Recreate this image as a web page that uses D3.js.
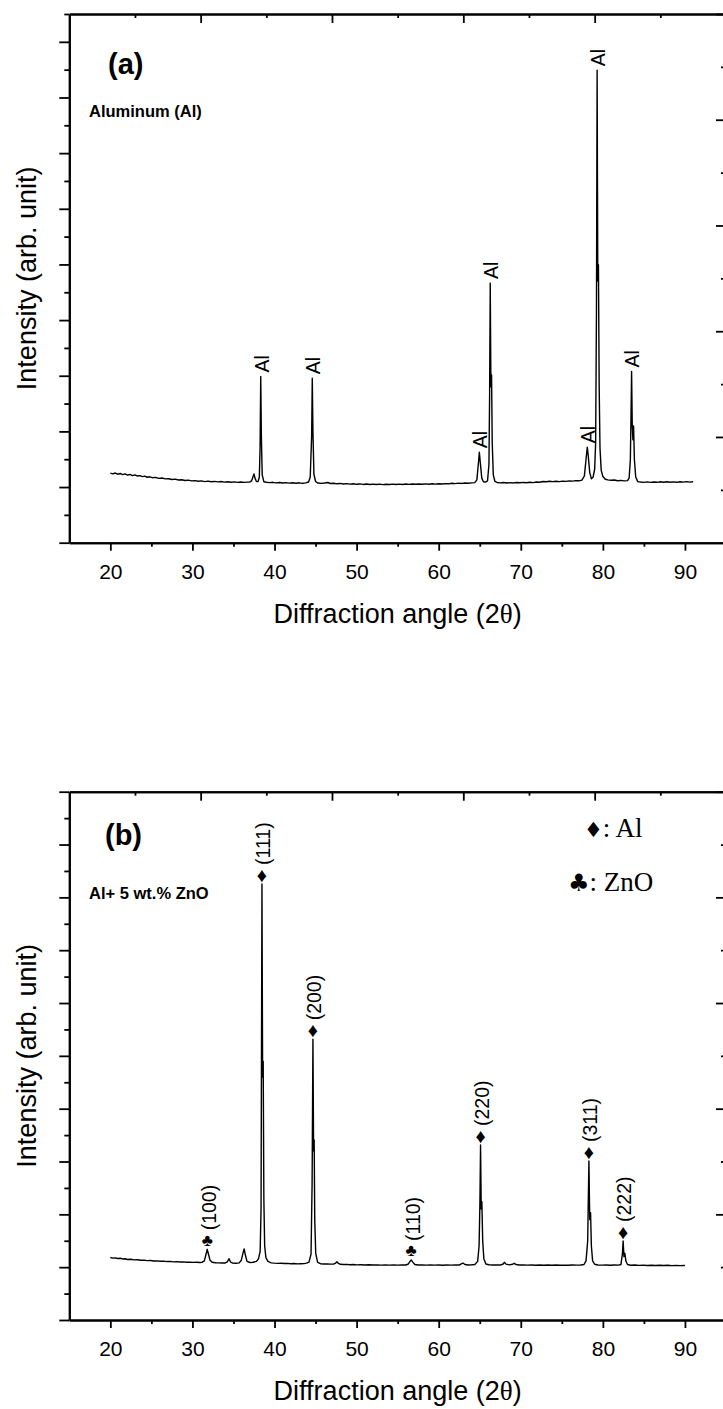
<!DOCTYPE html>
<html>
<head>
<meta charset="utf-8">
<script src="https://cdn.jsdelivr.net/npm/d3@7"></script>
<style>
  body { margin: 0; background: #fff; }
  svg text { font-family: Arial, "Liberation Sans", Helvetica, sans-serif; fill: #000; }
</style>
</head>
<body>
<svg id="chart" width="723" height="1409"></svg>
<script>
// ---------------- data ----------------
// bottom axis (2θ, degrees)
const angleTicks = [20, 30, 40, 50, 60, 70, 80, 90];
const angleMinorTicks = [25, 35, 45, 55, 65, 75, 85];

// Pattern (a): pure aluminium, [2θ, counts]
const scanAl = [
  [20.0,1250],[20.3,1238],[20.6,1252],[20.9,1230],[21.2,1244],[21.5,1224],[21.8,1236],[22.1,1214],
  [22.4,1226],[22.7,1205],[23.0,1218],[23.3,1198],[23.6,1206],[23.9,1188],[24.2,1196],[24.5,1176],
  [24.8,1184],[25.1,1168],[25.5,1174],[25.9,1156],[26.3,1162],[26.7,1146],[27.1,1150],[27.5,1136],
  [27.9,1142],[28.3,1126],[28.7,1132],[29.1,1118],[29.5,1124],[29.9,1110],[30.3,1116],[30.7,1104],
  [31.1,1110],[31.5,1098],[31.9,1106],[32.3,1095],[32.7,1102],[33.1,1092],[33.5,1099],[33.9,1088],
  [34.3,1096],[34.7,1086],[35.1,1093],[35.5,1084],[35.9,1091],[36.3,1083],[36.7,1089],[37.0,1092],
  [37.2,1110],[37.35,1170],[37.5,1236],[37.62,1160],[37.8,1098],[38.0,1100],[38.15,1180],[38.24,1700],
  [38.32,2986],[38.4,1900],[38.5,1220],[38.7,1096],[39.0,1086],[39.4,1079],[39.8,1085],[40.2,1074],
  [40.6,1081],[41.0,1072],[41.4,1079],[41.8,1070],[42.2,1077],[42.6,1069],[43.0,1076],[43.4,1067],
  [43.8,1074],[44.15,1090],[44.35,1180],[44.52,1900],[44.6,2957],[44.68,2000],[44.8,1230],[45.0,1100],
  [45.3,1072],[45.7,1066],[46.1,1072],[46.5,1082],[46.8,1064],[47.2,1069],[47.6,1058],[48.0,1065],
  [48.4,1055],[48.8,1062],[49.2,1052],[49.6,1059],[50.0,1049],[50.4,1056],[50.8,1047],[51.2,1054],
  [51.6,1046],[52.0,1053],[52.4,1045],[52.8,1052],[53.2,1044],[53.6,1051],[54.0,1046],[54.4,1053],
  [54.8,1045],[55.2,1052],[55.6,1047],[56.0,1054],[56.4,1048],[56.8,1055],[57.2,1049],[57.6,1056],
  [58.0,1050],[58.4,1057],[58.8,1051],[59.2,1058],[59.6,1053],[60.0,1059],[60.4,1055],[60.8,1062],
  [61.2,1058],[61.6,1068],[62.0,1062],[62.4,1070],[62.8,1065],[63.2,1073],[63.6,1068],[64.0,1075],
  [64.4,1080],[64.65,1130],[64.85,1450],[64.95,1626],[65.08,1420],[65.25,1160],[65.45,1095],[65.7,1090],
  [65.95,1110],[66.12,1400],[66.2,2600],[66.28,4665],[66.36,2800],[66.44,3016],[66.52,1800],[66.65,1220],
  [66.85,1100],[67.1,1082],[67.5,1075],[67.9,1081],[68.3,1073],[68.7,1080],[69.1,1074],[69.5,1081],
  [69.9,1076],[70.3,1083],[70.7,1078],[71.1,1086],[71.5,1080],[71.9,1090],[72.3,1086],[72.7,1100],
  [73.1,1096],[73.5,1104],[73.9,1098],[74.3,1103],[74.7,1097],[75.1,1106],[75.5,1101],[75.9,1110],
  [76.3,1106],[76.7,1115],[77.1,1112],[77.45,1125],[77.75,1200],[77.95,1500],[78.1,1716],[78.22,1560],
  [78.4,1260],[78.6,1150],[78.8,1175],[79.0,1320],[79.12,1800],[79.22,4200],[79.3,8489],[79.38,4700],
  [79.46,4995],[79.55,2800],[79.65,1700],[79.8,1300],[80.0,1190],[80.3,1140],[80.6,1128],[81.0,1121],
  [81.4,1127],[81.8,1114],[82.2,1120],[82.6,1110],[83.0,1116],[83.2,1160],[83.35,1500],[83.44,2400],
  [83.5,3076],[83.58,2100],[83.66,1850],[83.74,2099],[83.84,1500],[84.0,1180],[84.25,1098],[84.6,1090],
  [85.0,1084],[85.4,1092],[85.8,1083],[86.2,1091],[86.6,1085],[87.0,1094],[87.4,1086],[87.8,1095],
  [88.2,1087],[88.6,1093],[89.0,1085],[89.4,1096],[89.8,1088],[90.2,1097],[90.6,1089],[91.0,1094]
];
// reflections marked on pattern (a)
const peaksAl = [38.32, 44.6, 64.95, 66.28, 78.1, 79.3, 83.5];

// Pattern (b): Al + 5 wt.% ZnO, [2θ, counts]
const scanAlZnO = [
  [20.0,1182],[20.3,1172],[20.6,1176],[20.9,1164],[21.2,1168],[21.5,1156],[21.8,1160],[22.1,1146],
  [22.5,1150],[22.9,1138],[23.3,1141],[23.7,1131],[24.1,1134],[24.5,1124],[24.9,1127],[25.3,1117],
  [25.7,1120],[26.1,1111],[26.5,1114],[26.9,1106],[27.3,1109],[27.7,1101],[28.1,1104],[28.5,1097],
  [28.9,1100],[29.3,1093],[29.7,1096],[30.1,1090],[30.5,1094],[30.9,1089],[31.2,1094],[31.45,1120],
  [31.65,1240],[31.8,1338],[31.95,1250],[32.15,1130],[32.4,1092],[32.8,1084],[33.2,1081],[33.6,1078],
  [34.0,1080],[34.25,1100],[34.45,1160],[34.65,1098],[34.9,1076],[35.3,1073],[35.7,1082],[35.95,1130],
  [36.15,1260],[36.3,1344],[36.45,1230],[36.65,1110],[37.0,1088],[37.4,1094],[37.8,1110],[38.05,1160],
  [38.25,1300],[38.36,2100],[38.47,8253],[38.55,4600],[38.62,4900],[38.7,2300],[38.8,1400],[38.95,1180],
  [39.2,1110],[39.6,1082],[40.0,1076],[40.4,1072],[40.8,1075],[41.2,1069],[41.6,1072],[42.0,1066],
  [42.4,1069],[42.8,1063],[43.2,1066],[43.6,1068],[43.9,1076],[44.2,1095],[44.45,1250],[44.58,2600],
  [44.68,5313],[44.76,3200],[44.83,3407],[44.9,1900],[45.02,1260],[45.25,1090],[45.6,1066],[46.0,1060],
  [46.4,1062],[46.8,1057],[47.2,1058],[47.45,1078],[47.6,1104],[47.75,1075],[48.0,1054],[48.4,1050],
  [48.8,1053],[49.2,1047],[49.6,1050],[50.0,1044],[50.5,1047],[51.0,1042],[51.5,1045],[52.0,1040],
  [52.5,1044],[53.0,1039],[53.5,1043],[54.0,1038],[54.5,1042],[55.0,1039],[55.5,1043],[56.0,1041],
  [56.3,1060],[56.5,1110],[56.65,1136],[56.85,1095],[57.1,1050],[57.5,1040],[58.0,1044],[58.5,1039],
  [59.0,1043],[59.5,1038],[60.0,1042],[60.5,1037],[61.0,1041],[61.5,1038],[62.0,1042],[62.5,1040],
  [62.75,1062],[62.95,1078],[63.2,1050],[63.6,1042],[64.0,1045],[64.4,1050],[64.75,1110],[64.92,1400],
  [65.02,2200],[65.1,3312],[65.18,2100],[65.26,2240],[65.36,1500],[65.5,1160],[65.75,1060],[66.1,1045],
  [66.6,1041],[67.0,1044],[67.5,1040],[67.85,1060],[68.0,1092],[68.2,1058],[68.6,1043],[69.0,1055],
  [69.2,1073],[69.4,1050],[69.8,1040],[70.3,1043],[70.8,1038],[71.3,1042],[71.8,1037],[72.3,1041],
  [72.8,1036],[73.3,1040],[73.8,1036],[74.3,1040],[74.8,1035],[75.3,1039],[75.8,1036],[76.3,1040],
  [76.8,1038],[77.3,1042],[77.7,1050],[77.95,1120],[78.15,1500],[78.3,3010],[78.4,1900],[78.5,2031],
  [78.6,1400],[78.75,1120],[79.0,1055],[79.4,1042],[79.9,1038],[80.4,1041],[80.9,1036],[81.4,1040],
  [81.9,1038],[82.2,1050],[82.38,1250],[82.47,1495],[82.57,1200],[82.68,1262],[82.8,1120],[83.0,1050],
  [83.4,1036],[83.9,1040],[84.4,1034],[84.9,1038],[85.4,1033],[85.9,1037],[86.4,1032],[86.9,1036],
  [87.4,1031],[87.9,1035],[88.4,1030],[88.9,1034],[89.4,1029],[89.9,1032],[90.0,1028]
];
// indexed reflections on pattern (b)
const peakAngleB = [31.8, 38.47, 44.68, 56.65, 65.1, 78.3, 82.47];
const peakPhaseB = ["ZnO", "Al", "Al", "ZnO", "Al", "Al", "Al"];
const peakHklB   = ["(100)", "(111)", "(200)", "(110)", "(220)", "(311)", "(222)"];

const phaseGlyph = { Al: "\u2666", ZnO: "\u2663" };

// ---------------- layout ----------------
const svg = d3.select("#chart");
const xLeft = 69.3, xRight = 726;
const x = d3.scaleLinear().domain([15, 95]).range([xLeft, xRight]);

const panels = [
  { top: 14,    bottom: 542.7, scan: scanAl,    yMax: 9500 },
  { top: 791.7, bottom: 1320,  scan: scanAlZnO, yMax: 10000 }
];

function styleAxis(g) {
  g.selectAll("path.domain").attr("stroke", "#000").attr("stroke-width", 2);
  g.selectAll(".tick line").attr("stroke", "#000").attr("stroke-width", 1.8);
}

function peakTop(scan, angle) {
  return scan.reduce((best, p) => Math.abs(p[0] - angle) < 0.06 && p[1] > best[1] ? p : best, [angle, 0]);
}

panels.forEach((pn) => {
  const g = svg.append("g");
  const y = d3.scaleLinear().domain([0, pn.yMax]).range([pn.bottom, pn.top]);
  const frameTop = d3.scaleLinear().domain([0, 10]).range([xLeft, xRight]);
  const frameRight = d3.scaleLinear().domain([0, 10]).range([pn.bottom, pn.top]);

  // bottom axis
  const bx = g.append("g").attr("transform", `translate(0,${pn.bottom})`)
    .call(d3.axisBottom(x).tickValues(angleTicks).tickSize(8).tickSizeOuter(0).tickPadding(13.5).tickFormat(d3.format("d")));
  bx.selectAll("text").attr("font-size", 21);
  styleAxis(bx);
  const bxm = g.append("g").attr("transform", `translate(0,${pn.bottom})`)
    .call(d3.axisBottom(x).tickValues(angleMinorTicks).tickSize(4).tickSizeOuter(0).tickFormat(""));
  styleAxis(bxm);

  // top frame (ticks inward)
  const tx = g.append("g").attr("transform", `translate(0,${pn.top})`)
    .call(d3.axisBottom(frameTop).tickValues([2, 4, 6, 8, 10]).tickSize(9).tickSizeOuter(0).tickFormat(""));
  styleAxis(tx);
  const txm = g.append("g").attr("transform", `translate(0,${pn.top})`)
    .call(d3.axisBottom(frameTop).tickValues([1, 3, 5, 7, 9]).tickSize(4).tickSizeOuter(0).tickFormat(""));
  styleAxis(txm);

  // left intensity axis (ticks outward, no labels)
  const majorY = d3.range(0, pn.yMax + 1, 1000);
  const minorY = d3.range(500, pn.yMax + 1, 1000);
  const ly = g.append("g").attr("transform", `translate(${xLeft},0)`)
    .call(d3.axisLeft(y).tickValues(majorY).tickSize(10).tickSizeOuter(0).tickFormat(""));
  styleAxis(ly);
  const lym = g.append("g").attr("transform", `translate(${xLeft},0)`)
    .call(d3.axisLeft(y).tickValues(minorY).tickSize(5).tickSizeOuter(0).tickFormat(""));
  styleAxis(lym);

  // right frame (ticks inward)
  const ry = g.append("g").attr("transform", `translate(${xRight},0)`)
    .call(d3.axisLeft(frameRight).tickValues([2, 4, 6, 8, 10]).tickSize(10).tickSizeOuter(0).tickFormat(""));
  styleAxis(ry);
  const rym = g.append("g").attr("transform", `translate(${xRight},0)`)
    .call(d3.axisLeft(frameRight).tickValues([1, 3, 5, 7, 9]).tickSize(5).tickSizeOuter(0).tickFormat(""));
  styleAxis(rym);

  // diffraction pattern
  g.append("path")
    .datum(pn.scan)
    .attr("fill", "none")
    .attr("stroke", "#000")
    .attr("stroke-width", 1.4)
    .attr("stroke-linejoin", "round")
    .attr("d", d3.line().x(d => x(d[0])).y(d => y(d[1])));

  // axis titles
  const midY = (pn.top + pn.bottom) / 2;
  g.append("text")
    .attr("transform", `translate(36,${midY}) rotate(-90)`)
    .attr("text-anchor", "middle")
    .attr("font-size", 27)
    .text("Intensity (arb. unit)");
  const xt = g.append("text")
    .attr("x", (xLeft + xRight) / 2)
    .attr("y", pn.bottom + 80)
    .attr("text-anchor", "middle")
    .attr("font-size", 27);
  xt.append("tspan").text("Diffraction angle (2");
  xt.append("tspan").attr("font-family", "'Liberation Serif', 'Times New Roman', serif").text("\u03b8");
  xt.append("tspan").text(")");

  pn.y = y;
  pn.g = g;
});

// ---------------- annotations, pattern (a) ----------------
{
  const pn = panels[0], g = pn.g, y = pn.y;
  g.append("text").attr("x", 108).attr("y", 74)
    .attr("font-size", 29).attr("font-weight", "bold").text("(a)");
  g.append("text").attr("x", 89).attr("y", 116.5)
    .attr("font-size", 16.5).attr("font-weight", "bold").text("Aluminum (Al)");
  peaksAl.forEach(a => {
    const p = peakTop(pn.scan, a);
    g.append("text")
      .attr("transform", `translate(${x(p[0]) + 1},${y(p[1]) - 4}) rotate(-90)`)
      .attr("dy", "0.35em")
      .attr("font-size", 19.5)
      .text("Al");
  });
}

// ---------------- annotations, pattern (b) ----------------
{
  const pn = panels[1], g = pn.g, y = pn.y;
  g.append("text").attr("x", 105).attr("y", 845)
    .attr("font-size", 29).attr("font-weight", "bold").text("(b)");
  g.append("text").attr("x", 89).attr("y", 899)
    .attr("font-size", 16.5).attr("font-weight", "bold").text("Al+ 5 wt.% ZnO");

  peakAngleB.forEach((a, k) => {
    const p = peakTop(pn.scan, a);
    const px = x(p[0]), py = y(p[1]);
    const isAl = peakPhaseB[k] === "Al";
    g.append("text")
      .attr("x", px).attr("y", py - 9)
      .attr("text-anchor", "middle")
      .attr("dominant-baseline", "central")
      .attr("font-family", "'DejaVu Sans', sans-serif")
      .attr("font-size", isAl ? 20 : 17)
      .text(phaseGlyph[peakPhaseB[k]]);
    g.append("text")
      .attr("transform", `translate(${px + 1.5},${py - 19}) rotate(-90)`)
      .attr("dy", "0.35em")
      .attr("font-size", 19.5)
      .text(peakHklB[k]);
  });

  // phase key
  const key = [
    { phase: "Al",  x: 584, y: 837, size: 21 },
    { phase: "ZnO", x: 568, y: 891, size: 24 }
  ];
  key.forEach(k => {
    const t = g.append("text").attr("x", k.x).attr("y", k.y);
    t.append("tspan").attr("font-family", "'DejaVu Sans', sans-serif").attr("font-size", k.size).text(phaseGlyph[k.phase]);
    t.append("tspan").attr("font-family", "'Liberation Serif', 'Times New Roman', serif").attr("font-size", 27).text(": " + k.phase);
  });
}
</script>
</body>
</html>
